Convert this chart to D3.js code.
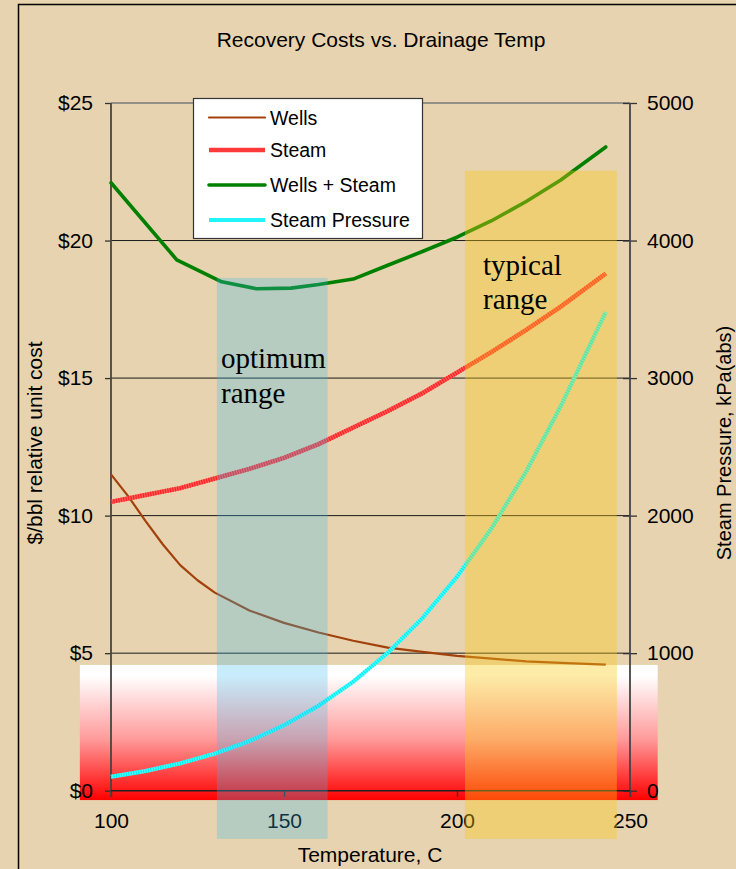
<!DOCTYPE html>
<html>
<head>
<meta charset="utf-8">
<script src="https://cdn.jsdelivr.net/npm/d3@7/dist/d3.min.js"></script>
<style>
  html, body { margin: 0; padding: 0; background: #E7D3AF; }
  svg { display: block; }
  text { font-family: "Liberation Sans", Arial, sans-serif; fill: #000; }
</style>
</head>
<body>
<svg id="chart" width="736" height="869"></svg>
<script>
// ---- data ----
const wellsTemp  = [100, 105, 110, 115, 120, 125, 130, 140, 150, 160, 170, 180, 190, 200, 210, 220, 230, 243];
const wellsCost  = [11.5, 10.7, 9.8, 8.95, 8.2, 7.65, 7.2, 6.55, 6.1, 5.75, 5.45, 5.2, 5.05, 4.9, 4.8, 4.7, 4.65, 4.58];

const steamTemp  = [100, 110, 120, 130, 140, 150, 160, 170, 180, 190, 200, 210, 220, 230, 243];
const steamCost  = [10.5, 10.75, 11.0, 11.35, 11.7, 12.1, 12.6, 13.2, 13.8, 14.45, 15.2, 15.95, 16.75, 17.6, 18.8];

const totalTemp  = [100, 119, 132, 142, 152, 160, 170, 180, 190, 200, 210, 220, 230, 243];
const totalCost  = [22.1, 19.3, 18.5, 18.25, 18.27, 18.4, 18.6, 19.1, 19.6, 20.12, 20.72, 21.42, 22.2, 23.4];

const pressTemp  = [100, 110, 120, 130, 140, 150, 160, 170, 180, 190, 200, 210, 220, 230, 243];
const pressKPa   = [101, 143, 199, 270, 361, 476, 618, 792, 1003, 1255, 1555, 1908, 2320, 2797, 3480];

const xTicks     = [100, 150, 200, 250];
const yTicks     = [0, 5, 10, 15, 20, 25];
const yRTicks    = [0, 1000, 2000, 3000, 4000, 5000];

// shaded temperature bands [from, to, top cost]
const optimumBand = [130.6, 162.6, 18.64];
const typicalBand = [202.3, 246.2, 22.54];

// ---- layout ----
const svg = d3.select("#chart");
const x  = d3.scaleLinear().domain([100, 250]).range([111, 630]);
const y  = d3.scaleLinear().domain([0, 25]).range([790.7, 103]);
const yR = d3.scaleLinear().domain([0, 5000]).range([790.7, 103]);

// outer frame
svg.append("rect").attr("x", 18.5).attr("y", 4.5).attr("width", 800).attr("height", 900)
  .attr("fill", "none").attr("stroke", "#000").attr("stroke-width", 1.5);

// warm gradient strip at the bottom
const defs = svg.append("defs");
const grad = defs.append("linearGradient").attr("id", "heat")
  .attr("x1", 0).attr("y1", 0).attr("x2", 0).attr("y2", 1);
grad.append("stop").attr("offset", "0%").attr("stop-color", "#ffffff");
grad.append("stop").attr("offset", "8%").attr("stop-color", "#ffffff");
grad.append("stop").attr("offset", "55%").attr("stop-color", "#ff9a9a");
grad.append("stop").attr("offset", "100%").attr("stop-color", "#ff0000");
svg.append("rect")
  .attr("x", x(91)).attr("y", y(4.57))
  .attr("width", x(258) - x(91)).attr("height", y(-0.34) - y(4.57))
  .attr("fill", "url(#heat)");

// title
svg.append("text").attr("x", 381).attr("y", 47).attr("text-anchor", "middle")
  .style("font-size", "21px").text("Recovery Costs vs. Drainage Temp");

// gridlines
svg.append("g").selectAll("line").data(yTicks.filter(d => d > 0 && d < 25)).join("line")
  .attr("x1", x(100)).attr("x2", x(250))
  .attr("y1", d => y(d)).attr("y2", d => y(d))
  .attr("stroke", "#1a1a1a").attr("stroke-width", 1);

// plot-area top border
svg.append("line").attr("x1", x(100)).attr("x2", x(250)).attr("y1", y(25)).attr("y2", y(25))
  .attr("stroke", "#7a7a7a").attr("stroke-width", 1.5);

// axes
const axisStyle = g => {
  g.select(".domain").remove();
  g.selectAll(".tick line").attr("stroke", "#333").attr("stroke-width", 1.3);
  g.selectAll(".tick text").style("font-family", "Liberation Sans, Arial, sans-serif")
    .style("font-size", "21px").attr("fill", "#000");
};

svg.append("g").attr("transform", `translate(${x(100)},0)`)
  .call(d3.axisLeft(y).tickValues(yTicks).tickFormat(d => "$" + d).tickSize(6).tickPadding(12))
  .call(axisStyle);

const gR = svg.append("g").attr("transform", `translate(${x(250)},0)`)
  .call(d3.axisRight(yR).tickValues(yRTicks).tickFormat(d3.format("d")).tickSize(7).tickPadding(10))
  .call(axisStyle);
gR.selectAll(".tick line").attr("x1", -7);

svg.append("g").attr("transform", `translate(0,${y(0)})`)
  .call(d3.axisBottom(x).tickValues(xTicks).tickFormat(d3.format("d")).tickSize(6).tickPadding(16))
  .call(axisStyle);

// axis lines
svg.append("line").attr("x1", x(100)).attr("x2", x(100)).attr("y1", y(25)).attr("y2", y(0) + 6)
  .attr("stroke", "#444").attr("stroke-width", 1.8);
svg.append("line").attr("x1", x(250)).attr("x2", x(250)).attr("y1", y(25)).attr("y2", y(0) + 6)
  .attr("stroke", "#444").attr("stroke-width", 1.8);
svg.append("line").attr("x1", x(100)).attr("x2", x(250)).attr("y1", y(0)).attr("y2", y(0))
  .attr("stroke", "#222").attr("stroke-width", 1.5);

// axis titles
svg.append("text").attr("x", 370).attr("y", 862).attr("text-anchor", "middle")
  .style("font-size", "21px").text("Temperature, C");
svg.append("text").attr("transform", "translate(42,443) rotate(-90)").attr("text-anchor", "middle")
  .style("font-size", "21px").text("$/bbl relative unit cost");
svg.append("text").attr("transform", "translate(731,443) rotate(-90)").attr("text-anchor", "middle")
  .style("font-size", "20px").text("Steam Pressure, kPa(abs)");

// series
const line = (xs, ys, ys2) => d3.line().x((d, i) => x(xs[i])).y((d, i) => ys2(ys[i]));
const series = svg.append("g");

series.append("path").attr("d", line(wellsTemp, wellsCost, y)(wellsCost))
  .attr("fill", "none").attr("stroke", "#A3410C").attr("stroke-width", 2.2).attr("stroke-linejoin", "round");

series.append("path").attr("d", line(steamTemp, steamCost, y)(steamCost))
  .attr("fill", "none").attr("stroke", "#ff5a5a").attr("stroke-width", 4.5);
series.append("path").attr("d", line(steamTemp, steamCost, y)(steamCost))
  .attr("fill", "none").attr("stroke", "#ff2020").attr("stroke-width", 4.5).attr("stroke-dasharray", "1.2 1.3");

series.append("path").attr("d", line(totalTemp, totalCost, y)(totalCost))
  .attr("fill", "none").attr("stroke", "#008000").attr("stroke-width", 3.6)
  .attr("stroke-linejoin", "round").attr("stroke-linecap", "round");

series.append("path").attr("d", line(pressTemp, pressKPa, yR)(pressKPa))
  .attr("fill", "none").attr("stroke", "#4dffff").attr("stroke-width", 4);
series.append("path").attr("d", line(pressTemp, pressKPa, yR)(pressKPa))
  .attr("fill", "none").attr("stroke", "#00eef5").attr("stroke-width", 4).attr("stroke-dasharray", "1.2 1.3");

// shaded bands
const bandBottom = -1.75;
svg.append("rect")
  .attr("x", x(optimumBand[0])).attr("width", x(optimumBand[1]) - x(optimumBand[0]))
  .attr("y", y(optimumBand[2])).attr("height", y(bandBottom) - y(optimumBand[2]))
  .attr("fill", "rgb(52,185,241)").attr("fill-opacity", 0.27);
svg.append("rect")
  .attr("x", x(typicalBand[0])).attr("width", x(typicalBand[1]) - x(typicalBand[0]))
  .attr("y", y(typicalBand[2])).attr("height", y(bandBottom) - y(typicalBand[2]))
  .attr("fill", "rgb(250,200,20)").attr("fill-opacity", 0.37);

// band captions
const serif = "'Liberation Serif', 'Times New Roman', serif";
const cap = (lines, x0, y0, dy) => lines.forEach((t, i) =>
  svg.append("text").attr("x", x0).attr("y", y0 + i * dy)
    .style("font-family", serif).style("font-size", "29px").text(t));
cap(["optimum", "range"], 221, 368, 35);
cap(["typical", "range"], 483, 275, 34);

// legend
const legend = svg.append("g");
legend.append("rect").attr("x", 193.5).attr("y", 98.5).attr("width", 229).attr("height", 140)
  .attr("fill", "#fff").attr("stroke", "#333").attr("stroke-width", 1.2);
const legItems = [
  { name: "Wells",          color: "#A3410C", w: 2.2 },
  { name: "Steam",          color: "#ff3a3a", w: 4.5, dash: true },
  { name: "Wells + Steam",  color: "#008000", w: 3.6 },
  { name: "Steam Pressure", color: "#22f5fa", w: 4, dash: true }
];
const rowY = [117.5, 150, 185, 220];
legItems.forEach((it, i) => {
  legend.append("line").attr("x1", 209).attr("x2", 265).attr("y1", rowY[i]).attr("y2", rowY[i])
    .attr("stroke", it.color).attr("stroke-width", it.w).attr("stroke-linecap", it.dash ? "butt" : "round");
  legend.append("text").attr("x", 270).attr("y", rowY[i]).attr("dy", "0.36em")
    .style("font-size", "19.5px").text(it.name);
});
</script>
</body>
</html>
